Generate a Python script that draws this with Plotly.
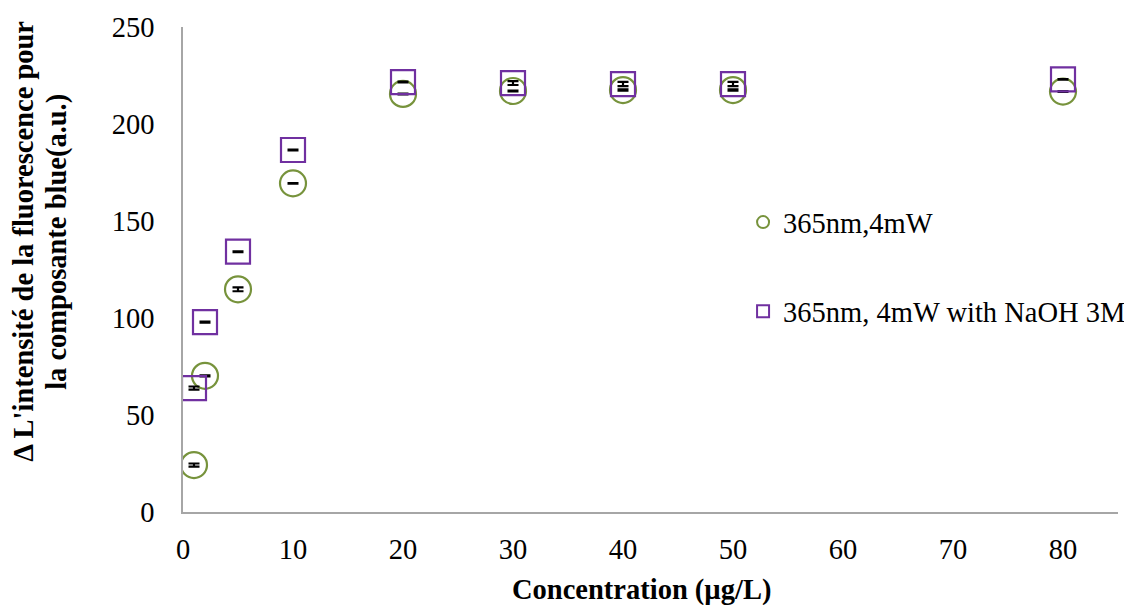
import plotly.graph_objects as go

conc = [1, 2, 5, 10, 20, 30, 40, 50, 80]
s1_name = "365nm,4mW"
s1_vals = [24.2, 70.2, 114.8, 169.4, 215.5, 217.0, 217.5, 217.5, 216.7]
s1_err = [0.8, 0.3, 1.0, 0.2, 0.2, 0.2, 0.3, 0.3, 0.2]
s2_name = "365nm, 4mW with NaOH 3M"
s2_vals = [63.9, 97.9, 134.2, 186.6, 221.6, 221.1, 220.6, 220.6, 223.0]
s2_err = [0.8, 0.3, 0.2, 0.2, 0.2, 1.0, 1.1, 1.1, 0.2]
x_ticks = [0, 10, 20, 30, 40, 50, 60, 70, 80]
y_ticks = [0, 50, 100, 150, 200, 250]
x_title = "Concentration (µg/L)"
y_title_lines = ["Δ L'intensité de la fluorescence pour", "la composante blue(a.u.)"]

FONT = "Liberation Serif, Times New Roman, serif"
FS = 28.5

# page body has an 8px margin, so the figure is 8px smaller than the window
W, H = 1124, 597

fig = go.Figure()
fig.add_trace(go.Scatter(
    x=conc, y=s1_vals, mode="markers", name=s1_name, legendgroup="a",
    marker=dict(symbol="circle-open", size=26, color="#77933C", line=dict(width=2.2, color="#77933C")),
    error_y=dict(type="data", array=s1_err, color="black", thickness=2.2, width=5.5),
))
fig.add_trace(go.Scatter(
    x=conc, y=s2_vals, mode="markers", name=s2_name, legendgroup="b",
    marker=dict(symbol="square-open", size=24, color="#7030A0", line=dict(width=2.2, color="#7030A0")),
    error_y=dict(type="data", array=s2_err, color="black", thickness=2.2, width=5.5),
))

for txt, xp in zip(y_title_lines, [-159, -126]):
    fig.add_annotation(text="<b>" + txt + "</b>", textangle=-90,
                       xref="paper", yref="paper", x=0, y=0.557, xshift=xp,
                       xanchor="center", yanchor="middle", showarrow=False,
                       font=dict(family=FONT, size=FS, color="black"))

fig.add_annotation(text="<b>" + x_title + "</b>", xref="paper", yref="paper",
                   x=0.49, y=0, yshift=-78, xanchor="center", yanchor="middle",
                   showarrow=False, font=dict(family=FONT, size=FS, color="black"))

fig.update_layout(
    width=W, height=H,
    margin=dict(l=175, r=14, t=19, b=93, autoexpand=False),
    paper_bgcolor="white", plot_bgcolor="white",
    font=dict(family=FONT, size=FS, color="black"),
    showlegend=True,
    legend=dict(x=0.599, y=0.505, xanchor="left", yanchor="middle",
                font=dict(family=FONT, size=FS, color="black"),
                itemsizing="constant", tracegroupgap=49,
                bgcolor="rgba(0,0,0,0)", itemwidth=30),
    xaxis=dict(range=[0, 85], tickvals=x_ticks, ticktext=[str(v) for v in x_ticks],
               showgrid=False, zeroline=False, showline=True, linecolor="#A6A6A6", linewidth=1.5,
               ticks="", ticklabelstandoff=11, automargin=False),
    yaxis=dict(range=[0, 250], tickvals=y_ticks, ticktext=[str(v) for v in y_ticks],
               showgrid=False, zeroline=False, showline=True, linecolor="#A6A6A6", linewidth=1.5,
               ticks="", ticklabelstandoff=21, automargin=False),
)

fig.write_html("out.html")
